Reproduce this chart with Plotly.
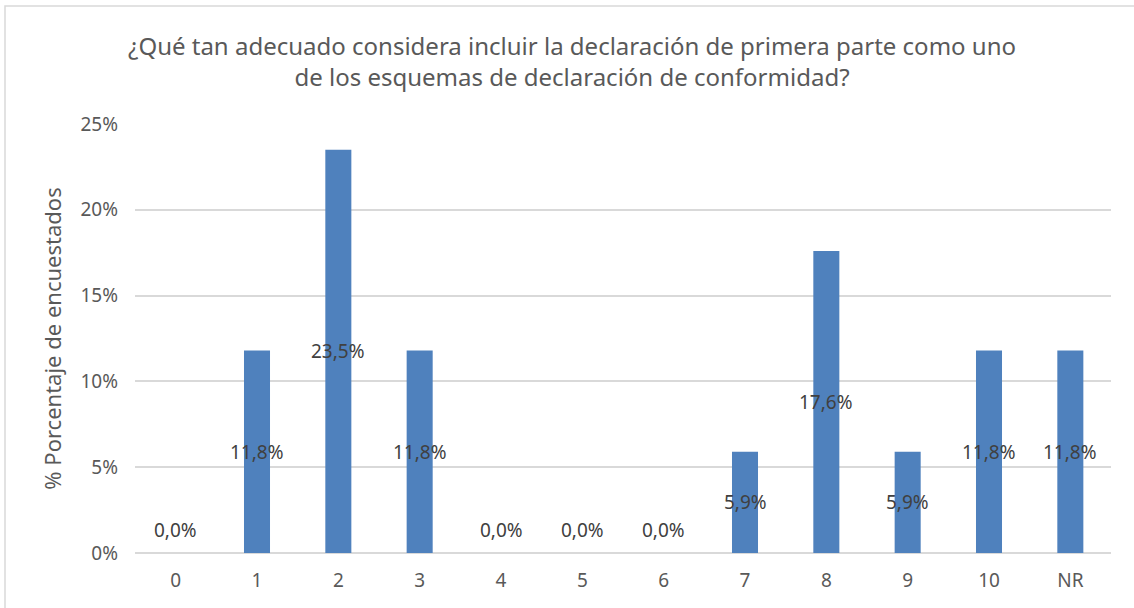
import plotly.graph_objects as go

categories = ["0", "1", "2", "3", "4", "5", "6", "7", "8", "9", "10", "NR"]
values = [0.0, 11.8, 23.5, 11.8, 0.0, 0.0, 0.0, 5.9, 17.6, 5.9, 11.8, 11.8]
y_ticks = [0, 5, 10, 15, 20, 25]
y_tick_labels = ["0%", "5%", "10%", "15%", "20%", "25%"]
title_text = "¿Qué tan adecuado considera incluir la declaración de primera parte como uno<br>de los esquemas de declaración de conformidad?"

FONT = "Noto Sans"
W, H = 1134, 608
OFF = 0  # page body margin removed via post_script
# target plot area in screenshot pixels
PX0, PX1, PY0, PY1 = 135, 1111, 124, 553
ml, mt = PX0 - OFF, PY0 - OFF
mr, mb = W + OFF - PX1, H + OFF - PY1
pw, ph = PX1 - PX0, PY1 - PY0

fig = go.Figure()
fig.add_trace(go.Bar(
    x=categories, y=values, width=0.32,
    marker=dict(color="#4F81BD", line=dict(width=0)),
    hoverinfo="skip",
))

annotations = []
for c, v in zip(categories, values):
    annotations.append(dict(
        x=c, y=v / 2, xref="x", yref="y",
        text=f"{v:.1f}%".replace(".", ","),
        showarrow=False,
        yshift=23 if v == 0 else 0,
        font=dict(family=FONT, size=19, color="#404040"),
    ))

fig.update_layout(
    width=W, height=H,
    margin=dict(l=ml, r=mr, t=mt, b=mb),
    paper_bgcolor="white", plot_bgcolor="white",
    showlegend=False,
    title=dict(
        text=title_text, x=572 / W, xanchor="center", xref="container",
        y=1 - 55 / H, yanchor="middle",
        font=dict(family=FONT, size=24, color="#595959"),
    ),
    xaxis=dict(
        type="category", showgrid=False, showline=False, zeroline=False,
        ticks="", ticklabelstandoff=14,
        tickfont=dict(family=FONT, size=19, color="#595959"),
    ),
    yaxis=dict(
        range=[0, 25], tickvals=y_ticks, ticktext=y_tick_labels,
        showgrid=True, gridcolor="#D9D9D9", gridwidth=1.5,
        zeroline=True, zerolinecolor="#D9D9D9", zerolinewidth=1.5,
        showline=False, ticks="", ticklabelstandoff=16,
        tickfont=dict(family=FONT, size=19, color="#595959"),
        title=dict(text="% Porcentaje de encuestados",
                   font=dict(family=FONT, size=22, color="#595959"), standoff=12),
    ),
    annotations=annotations,
    shapes=[dict(
        type="rect", xref="paper", yref="paper",
        x0=(5 - PX0) / pw, x1=1.3, y0=-0.5, y1=(PY1 - 6) / ph,
        line=dict(color="#D9D9D9", width=1.5), fillcolor="rgba(0,0,0,0)",
        layer="below",
    )],
)

fig.write_html("out.html", config={"displayModeBar": False},
               post_script="document.body.style.margin='0';")
